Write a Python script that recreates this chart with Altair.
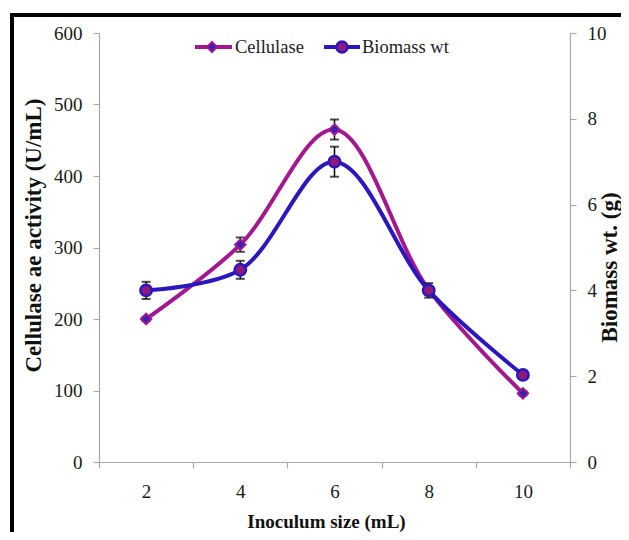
import altair as alt
import pandas as pd

# ---- data ----
inoculum = ["2", "4", "6", "8", "10"]
cellulase = [200, 304, 465, 241, 96]
cellulase_err = [3, 10, 14, 5, 3]
biomass = [4.0, 4.48, 7.0, 4.0, 2.03]
biomass_err = [0.2, 0.21, 0.35, 0.17, 0.08]

MAG = "#A3178F"
BLUE = "#2A17BE"
MAG_FILL = "#8F1A7C"
BLUE_FILL = "#3322B4"
AX = "#A8A8A8"
FONT = "Liberation Serif"

df = pd.DataFrame({
    "x": inoculum,
    "cel": cellulase,
    "cel_err": cellulase_err,
    "bio": biomass,
    "bio_err": biomass_err,
})

W, H = 471, 429

xenc = alt.X("x:O", sort=inoculum,
             scale=alt.Scale(type="band", paddingInner=0, paddingOuter=0),
             axis=alt.Axis(title="Inoculum size (mL)", tickBand="extent",
                           labelAngle=0, labelPadding=14, tickSize=6,
                           titleX=227, titleY=59, titleBaseline="middle",
                           titleAlign="center"))

base = alt.Chart(df).transform_calculate(
    cel_lo="datum.cel - datum.cel_err", cel_hi="datum.cel + datum.cel_err",
    bio_lo="datum.bio - datum.bio_err", bio_hi="datum.bio + datum.bio_err",
)

cel_scale = alt.Scale(domain=[0, 600], nice=False, zero=True)
bio_scale = alt.Scale(domain=[0, 10], nice=False, zero=True)

CT = "Cellulase ae activity (U/mL)"
BT = "Biomass wt. (g)"

cel_axis = alt.Axis(title=CT, values=[0, 100, 200, 300, 400, 500, 600],
                    tickSize=6, labelPadding=11, titleX=-66, titleY=202, titleAngle=270,
                    titleBaseline="middle", titleAlign="center", titleFontSize=23)
bio_axis = alt.Axis(title=BT, values=[0, 2, 4, 6, 8, 10], orient="right",
                    tickSize=6, labelPadding=11, titleX=39, titleY=234, titleAngle=270,
                    titleBaseline="middle", titleAlign="center", titleFontSize=23)


def cy(field):
    return alt.Y(field, scale=cel_scale, axis=cel_axis, title=CT)


def by(field):
    return alt.Y(field, scale=bio_scale, axis=bio_axis, title=BT)


cap = dict(color="black", thickness=2, size=9, orient="horizontal")

cel_err = base.mark_rule(color="black", strokeWidth=1.5).encode(
    x=xenc, y=cy("cel_lo:Q"), y2="cel_hi:Q")
cel_cap_lo = base.mark_tick(**cap).encode(x=xenc, y=cy("cel_lo:Q"))
cel_cap_hi = base.mark_tick(**cap).encode(x=xenc, y=cy("cel_hi:Q"))
cel_line = base.mark_line(color=MAG, strokeWidth=4, interpolate="catmull-rom").encode(
    x=xenc, y=cy("cel:Q"))
cel_pts = base.mark_point(shape="diamond", filled=True, fill=BLUE_FILL, stroke=MAG,
                          strokeWidth=2, size=110, opacity=1).encode(x=xenc, y=cy("cel:Q"))

bio_err = base.mark_rule(color="black", strokeWidth=1.5).encode(
    x=xenc, y=by("bio_lo:Q"), y2="bio_hi:Q")
bio_cap_lo = base.mark_tick(**cap).encode(x=xenc, y=by("bio_lo:Q"))
bio_cap_hi = base.mark_tick(**cap).encode(x=xenc, y=by("bio_hi:Q"))
bio_line = base.mark_line(color=BLUE, strokeWidth=4, interpolate="catmull-rom").encode(
    x=xenc, y=by("bio:Q"))
bio_pts = base.mark_point(shape="circle", filled=True, fill=MAG_FILL, stroke=BLUE,
                          strokeWidth=2.5, size=130, opacity=1).encode(x=xenc, y=by("bio:Q"))

left = alt.layer(cel_err, cel_cap_lo, cel_cap_hi, cel_line, cel_pts)
right = alt.layer(bio_err, bio_cap_lo, bio_cap_hi, bio_line, bio_pts)

# ---- legend (manual) ----
leg = pd.DataFrame({"a": [0]})
lg = alt.Chart(leg)
leg_l1 = lg.mark_rule(color=MAG, strokeWidth=4).encode(
    x=alt.value(96), x2=alt.value(133), y=alt.value(14))
leg_p1 = lg.mark_point(shape="diamond", filled=True, fill=BLUE_FILL, stroke=MAG,
                       strokeWidth=2, size=100, opacity=1).encode(x=alt.value(113), y=alt.value(14))
leg_t1 = lg.mark_text(text="Cellulase", font=FONT, fontSize=18.5, align="left",
                      baseline="middle", color="#222").encode(x=alt.value(136), y=alt.value(14))
leg_l2 = lg.mark_rule(color=BLUE, strokeWidth=4).encode(
    x=alt.value(225), x2=alt.value(261), y=alt.value(14))
leg_p2 = lg.mark_point(shape="circle", filled=True, fill=MAG_FILL, stroke=BLUE,
                       strokeWidth=2.5, size=120, opacity=1).encode(x=alt.value(243), y=alt.value(14))
leg_t2 = lg.mark_text(text="Biomass wt", font=FONT, fontSize=18.5, align="left",
                      baseline="middle", color="#222").encode(x=alt.value(263), y=alt.value(14))

# ---- outer frame ----
frame_top = lg.mark_rule(color="black", strokeWidth=4).encode(
    x=alt.value(-89), x2=alt.value(525), y=alt.value(-18))
frame_left = lg.mark_rule(color="black", strokeWidth=4).encode(
    x=alt.value(-87), y=alt.value(-20), y2=alt.value(520))

chart = alt.layer(
    left, right,
    leg_l1, leg_p1, leg_t1, leg_l2, leg_p2, leg_t2,
    frame_top, frame_left,
).resolve_scale(y="independent").properties(
    width=W, height=H,
    autosize=alt.AutoSizeParams(type="none"),
    padding={"left": 91, "top": 25, "right": 51, "bottom": 70},
    background="white",
).configure_view(stroke=None).configure_axis(
    labelFont=FONT, titleFont=FONT, labelFontSize=19, titleFontSize=19,
    labelColor="#1a1a1a", titleColor="#111", titleFontWeight="bold",
    domainColor=AX, tickColor=AX, grid=False, domainWidth=1.2, tickWidth=1.2,
)

chart.save("out.html", embed_options={"renderer": "svg", "actions": False})
